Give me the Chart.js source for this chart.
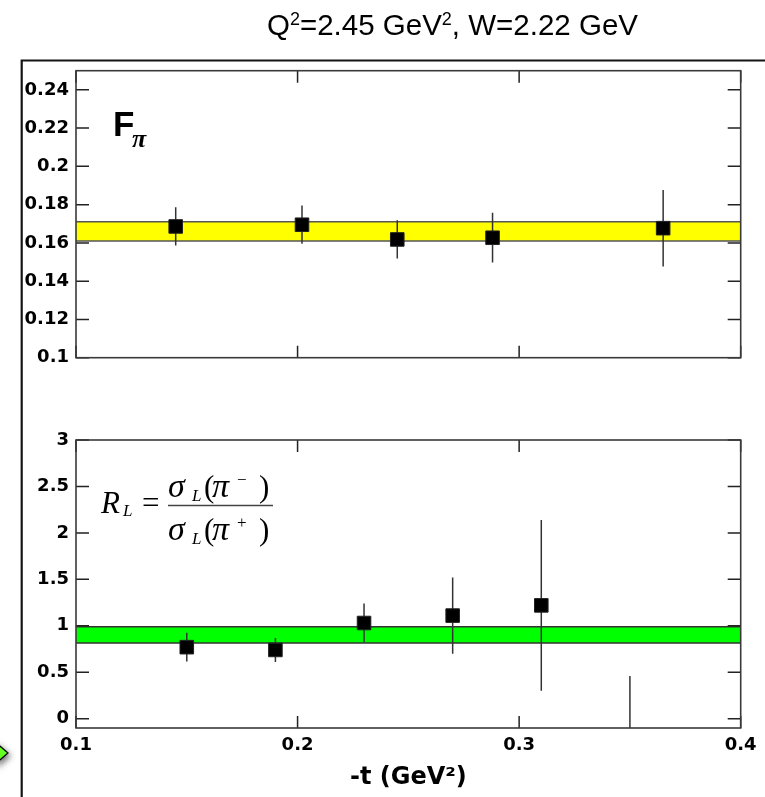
<!DOCTYPE html>
<html><head><meta charset="utf-8">
<script src="https://cdn.jsdelivr.net/npm/chart.js@4/dist/chart.umd.min.js"></script>
<style>
html,body{margin:0;padding:0;background:#fff;}
#wrap{position:relative;width:765px;height:797px;overflow:hidden;background:#fff;}
canvas{position:absolute;left:0;top:0;}
</style></head><body>
<div id="wrap"><canvas id="c1" width="765" height="797"></canvas><canvas id="c2" width="765" height="797"></canvas></div>
<script>
// ---- data ----
const xTicks = [0.1, 0.2, 0.3, 0.4];
const xTickLabels = ['0.1', '0.2', '0.3', '0.4'];

const tF = [0.145, 0.202, 0.245, 0.288, 0.365];
const fPi = [0.1686, 0.1695, 0.1618, 0.1627, 0.1677];
const fPiErr = [0.010, 0.010, 0.010, 0.013, 0.020];
const fPiBand = [0.161, 0.171];
const yTicksTop = [0.1, 0.12, 0.14, 0.16, 0.18, 0.2, 0.22, 0.24];
const yTickLabelsTop = ['0.1', '0.12', '0.14', '0.16', '0.18', '0.2', '0.22', '0.24'];

const tR = [0.15, 0.19, 0.23, 0.27, 0.31, 0.35];
const rL = [0.77, 0.74, 1.03, 1.11, 1.22, -0.40];
const rLErr = [0.155, 0.13, 0.21, 0.41, 0.92, 0.86];
const rLBand = [0.815, 0.99];
const yTicksBottom = [0, 0.5, 1, 1.5, 2, 2.5, 3];
const yTickLabelsBottom = ['0', '0.5', '1', '1.5', '2', '2.5', '3'];

const titleText = ['Q', '2', '=2.45 GeV', '2', ', W=2.22 GeV'];
const xTitle = '-t (GeV²)';

// ---- plugins ----
const framePlugin = {
  id: 'frame',
  afterDatasetsDraw(chart, args, opts) {
    const {ctx, chartArea: a, scales} = chart;
    const xs = scales.x, ys = scales.y;
    ctx.save();
    ctx.strokeStyle = '#222'; ctx.lineWidth = 1.5;
    ctx.beginPath();
    opts.xTicks.forEach(v => {
      const px = xs.getPixelForValue(v);
      ctx.moveTo(px, a.top); ctx.lineTo(px, a.top + 12);
      ctx.moveTo(px, a.bottom); ctx.lineTo(px, a.bottom - 12);
    });
    opts.yTicks.forEach(v => {
      const py = ys.getPixelForValue(v);
      ctx.moveTo(a.left, py); ctx.lineTo(a.left + 13, py);
      ctx.moveTo(a.right, py); ctx.lineTo(a.right - 13, py);
    });
    ctx.stroke();
    ctx.strokeStyle = '#3a3a3a'; ctx.lineWidth = 1.6;
    ctx.strokeRect(a.left, a.top, a.width, a.height);
    ctx.restore();
  }
};

const errPlugin = {
  id: 'errbars',
  beforeDatasetDraw(chart, args) {
    const ds = chart.data.datasets[args.index];
    if (!ds.errors) return;
    const {ctx, chartArea: a, scales: {x, y}} = chart;
    ctx.save();
    ctx.beginPath(); ctx.rect(a.left, a.top, a.width, a.height); ctx.clip();
    ctx.strokeStyle = '#333'; ctx.lineWidth = 1.5;
    ctx.beginPath();
    ds.data.forEach((p, i) => {
      const px = x.getPixelForValue(p.x);
      ctx.moveTo(px, y.getPixelForValue(p.y + ds.errors[i]));
      ctx.lineTo(px, y.getPixelForValue(p.y - ds.errors[i]));
    });
    ctx.stroke();
    ctx.restore();
  }
};

function runsWidth(ctx, runs) {
  let w = 0;
  runs.forEach(r => { ctx.font = r.f; w += ctx.measureText(r.t).width; });
  return w;
}
function drawRuns(ctx, x, y, runs) {
  runs.forEach(r => {
    ctx.font = r.f;
    ctx.fillText(r.t, x, y + (r.dy || 0));
    x += ctx.measureText(r.t).width;
  });
}

const topDeco = {
  id: 'topDeco',
  afterDraw(chart) {
    const ctx = chart.ctx;
    ctx.save();
    // outer slide box
    ctx.strokeStyle = '#151515'; ctx.lineWidth = 2.2;
    ctx.beginPath(); ctx.moveTo(21.7, 820); ctx.lineTo(21.7, 60.5); ctx.lineTo(790, 60.5); ctx.stroke();
    // green arrow decoration
    ctx.save();
    ctx.shadowColor = 'rgba(0,0,0,0.55)'; ctx.shadowBlur = 6; ctx.shadowOffsetX = 3; ctx.shadowOffsetY = 3;
    ctx.beginPath(); ctx.moveTo(-6, 741); ctx.lineTo(8, 753); ctx.lineTo(-6, 765); ctx.closePath();
    ctx.fillStyle = '#66ff22'; ctx.fill();
    ctx.restore();
    ctx.strokeStyle = '#000'; ctx.lineWidth = 1.2;
    ctx.beginPath(); ctx.moveTo(-6, 741); ctx.lineTo(8, 753); ctx.lineTo(-6, 765); ctx.stroke();
    // title
    ctx.fillStyle = '#000'; ctx.textBaseline = 'alphabetic'; ctx.textAlign = 'left';
    const mf = '29.5px "Liberation Sans", Arial, sans-serif';
    const sf = '18px "Liberation Sans", Arial, sans-serif';
    const runs = [
      {t: titleText[0], f: mf}, {t: titleText[1], f: sf, dy: -10},
      {t: titleText[2], f: mf}, {t: titleText[3], f: sf, dy: -10},
      {t: titleText[4], f: mf}
    ];
    const w = runsWidth(ctx, runs);
    drawRuns(ctx, 452.5 - w / 2, 35, runs);
    // F_pi label
    ctx.font = 'bold 35px "Liberation Sans", Arial, sans-serif';
    ctx.fillText('F', 113, 136);
    ctx.font = 'bold italic 26px "Liberation Serif", serif';
    ctx.fillText('π', 132, 147);
    ctx.restore();
  }
};

const bottomDeco = {
  id: 'bottomDeco',
  afterDraw(chart) {
    const ctx = chart.ctx;
    ctx.save();
    ctx.fillStyle = '#000'; ctx.textBaseline = 'alphabetic'; ctx.textAlign = 'left';
    const itR = 'italic 31px "Liberation Serif", "Times New Roman", serif';
    const it = 'italic 34px "Liberation Serif", "Times New Roman", serif';
    const up = '31px "Liberation Serif", "Times New Roman", serif';
    const sub = 'italic 17px "Liberation Serif", "Times New Roman", serif';
    const sup = '17px "Liberation Serif", "Times New Roman", serif';
    ctx.font = itR; ctx.fillText('R', 101, 513);
    ctx.font = sub; ctx.fillText('L', 123, 516);
    ctx.font = up; ctx.fillText('=', 142, 513);
    // fraction bar
    ctx.strokeStyle = '#444'; ctx.lineWidth = 1.6;
    ctx.beginPath(); ctx.moveTo(168, 505.5); ctx.lineTo(273, 505.5); ctx.stroke();
    const frac = (base, sign) => {
      ctx.font = it; ctx.fillText('σ', 168, base);
      ctx.font = sub; ctx.fillText('L', 192, base + 4);
      ctx.font = up; ctx.fillText('(', 204, base);
      ctx.font = it; ctx.fillText('π', 212, base);
      ctx.font = sup; ctx.fillText(sign, 237, base - 12);
      ctx.font = up; ctx.fillText(')', 259, base);
    };
    frac(497, '−');
    frac(540, '+');
    ctx.restore();
  }
};

const tickFont = {family: '"DejaVu Sans", sans-serif', size: 18, weight: 'bold'};

// ---- top chart ----
new Chart(document.getElementById('c1'), {
  type: 'scatter',
  data: {
    datasets: [
      {type: 'scatter', data: tF.map((t, i) => ({x: t, y: fPi[i]})), errors: fPiErr,
       pointStyle: 'rect', pointRadius: 9.6, backgroundColor: '#000', borderColor: '#222', borderWidth: 1, order: 0},
      {type: 'line', data: [{x: 0.1, y: fPiBand[1]}, {x: 0.4, y: fPiBand[1]}], fill: '+1',
       backgroundColor: '#ffff00', borderColor: '#555', borderWidth: 1.5, pointRadius: 0, order: 2},
      {type: 'line', data: [{x: 0.1, y: fPiBand[0]}, {x: 0.4, y: fPiBand[0]}], fill: false,
       borderColor: '#555', borderWidth: 1.5, pointRadius: 0, order: 1}
    ]
  },
  options: {
    responsive: false, animation: false,
    layout: {padding: {left: 0, top: 70.7, right: 24.3, bottom: 439.3}},
    plugins: {legend: {display: false}, tooltip: {enabled: false},
      frame: {xTicks: xTicks, yTicks: yTicksTop}},
    scales: {
      x: {type: 'linear', min: 0.1, max: 0.4, display: false},
      y: {type: 'linear', min: 0.1, max: 0.25,
        afterBuildTicks: s => { s.ticks = yTicksTop.map(v => ({value: v})); },
        afterFit: s => { s.width = 76; },
        grid: {display: false, drawTicks: false}, border: {display: false},
        ticks: {padding: 7, color: '#000', font: tickFont, callback: (v, i) => yTickLabelsTop[i]}}
    }
  },
  plugins: [framePlugin, errPlugin, topDeco]
});

// ---- bottom chart ----
new Chart(document.getElementById('c2'), {
  type: 'scatter',
  data: {
    datasets: [
      {type: 'scatter', data: tR.map((t, i) => ({x: t, y: rL[i]})), errors: rLErr,
       pointStyle: 'rect', pointRadius: 9.6, backgroundColor: '#000', borderColor: '#222', borderWidth: 1, order: 0},
      {type: 'line', data: [{x: 0.1, y: rLBand[1]}, {x: 0.4, y: rLBand[1]}], fill: '+1',
       backgroundColor: '#00ff00', borderColor: '#333', borderWidth: 1.5, pointRadius: 0, order: 2},
      {type: 'line', data: [{x: 0.1, y: rLBand[0]}, {x: 0.4, y: rLBand[0]}], fill: false,
       borderColor: '#333', borderWidth: 1.5, pointRadius: 0, order: 1}
    ]
  },
  options: {
    responsive: false, animation: false,
    layout: {padding: {left: 0, top: 440, right: 24.3, bottom: 0}},
    plugins: {legend: {display: false}, tooltip: {enabled: false},
      frame: {xTicks: xTicks, yTicks: yTicksBottom}},
    scales: {
      x: {type: 'linear', min: 0.1, max: 0.4,
        afterBuildTicks: s => { s.ticks = xTicks.map(v => ({value: v})); },
        afterFit: s => { s.height = 69; },
        grid: {display: false, drawTicks: false}, border: {display: false},
        ticks: {padding: 7, color: '#000', font: tickFont, maxRotation: 0, autoSkip: false,
          callback: (v, i) => xTickLabels[i]},
        title: {display: true, text: xTitle, color: '#000',
          font: {family: '"DejaVu Sans", sans-serif', size: 24, weight: 'bold'},
          padding: {top: 0, bottom: 4.6}}},
      y: {type: 'linear', min: -0.1, max: 3,
        afterBuildTicks: s => { s.ticks = yTicksBottom.map(v => ({value: v})); },
        afterFit: s => { s.width = 76; },
        grid: {display: false, drawTicks: false}, border: {display: false},
        ticks: {padding: 7, color: '#000', font: tickFont, callback: (v, i) => yTickLabelsBottom[i]}}
    }
  },
  plugins: [framePlugin, errPlugin, bottomDeco]
});
</script>
</body></html>
